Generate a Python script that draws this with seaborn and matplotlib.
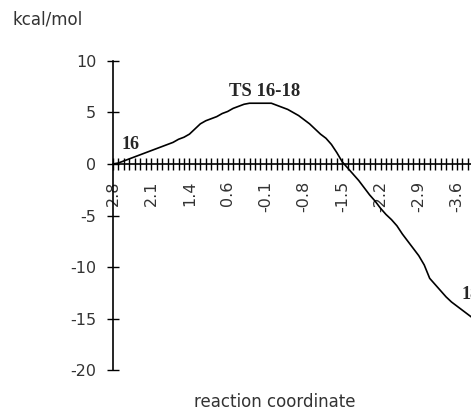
import numpy as np
import pandas as pd
import matplotlib
matplotlib.use("Agg")
import matplotlib.pyplot as plt
import seaborn as sns

# energia relativa (kcal/mol) en cada punto de la coordenada de reaccion
energia = [0.0, 0.1, 0.3, 0.5, 0.7, 0.9, 1.1, 1.3, 1.5, 1.7,
           1.9, 2.1, 2.4, 2.6, 2.9, 3.4, 3.9, 4.2, 4.4, 4.6,
           4.9, 5.1, 5.4, 5.6, 5.8, 5.9, 5.9, 5.9, 5.9, 5.9,
           5.7, 5.5, 5.3, 5.0, 4.7, 4.3, 3.9, 3.4, 2.9, 2.5,
           1.9, 1.1, 0.2, -0.4, -1.0, -1.6, -2.3, -3.0, -3.6, -4.3,
           -4.9, -5.4, -6.0, -6.8, -7.5, -8.2, -8.9, -9.8, -11.1, -11.7,
           -12.3, -12.9, -13.4, -13.8, -14.2, -14.6, -15.0, -15.4]
etiquetas_x = ["2.8", "2.1", "1.4", "0.6", "-0.1", "-0.8", "-1.5", "-2.2", "-2.9", "-3.6"]
ticks_y = [-20, -15, -10, -5, 0, 5, 10]
etiquetas_y = ["-20", "-15", "-10", "-5", "0", "5", "10"]

cada = 7  # una etiqueta cada 7 categorias
n_cat = 80

df = pd.DataFrame({"punto": np.arange(len(energia)), "energia": energia})

sns.set_style("white")
plt.rcParams["font.family"] = ["DejaVu Sans"]

fig = plt.figure(figsize=(4.71, 4.11), dpi=100)
ax = fig.add_axes([113 / 471, 41 / 411, n_cat * 5.46 / 471, 309 / 411])

sns.lineplot(data=df, x="punto", y="energia", color="black", linewidth=1.2, ax=ax)

ax.set_xlim(0, n_cat)
ax.set_ylim(-20, 10)

ax.spines["top"].set_visible(False)
ax.spines["right"].set_visible(False)
ax.spines["bottom"].set_position(("data", 0))
ax.spines["left"].set_position(("data", 0))
for s in ["bottom", "left"]:
    ax.spines[s].set_color("black")
    ax.spines[s].set_linewidth(1.2)

# marcas en todas las categorias, etiqueta cada 7
posiciones = np.arange(0, n_cat + 1)
lbls = [""] * len(posiciones)
for k, t in enumerate(etiquetas_x):
    lbls[k * cada] = t
ax.set_xticks(posiciones)
ax.set_xticklabels(lbls, rotation=90, color="#333333", fontsize=11.5)
ax.tick_params(axis="x", bottom=True, direction="inout", length=8, width=1.0,
               pad=8, color="black")
for lab in ax.get_xticklabels():
    lab.set_verticalalignment("top")

ax.set_yticks(ticks_y)
ax.set_yticklabels(etiquetas_y, color="#333333", fontsize=11.5)
ax.tick_params(axis="y", left=True, direction="inout", length=8, width=1.0,
               pad=8, color="black")

ax.set_xlabel("")
ax.set_ylabel("")

etiq_serif = ["Liberation Serif", "DejaVu Serif"]
ax.text(27.8, 6.6, "TS 16-18", family=etiq_serif, fontweight="bold", fontsize=13.5,
        ha="center", va="baseline")
ax.text(1.6, 1.45, "16", family=etiq_serif, fontweight="bold", fontsize=13,
        ha="left", va="baseline")
ax.text(63.9, -13.1, "18", family=etiq_serif, fontweight="bold", fontsize=13,
        ha="left", va="baseline")

fig.text(12 / 471, 1 - 20 / 411, "kcal/mol", fontsize=12, color="#333333",
         ha="left", va="center")
fig.text(275 / 471, 1 - 402 / 411, "reaction coordinate", fontsize=12, color="#333333",
         ha="center", va="center")

fig.savefig("out.png", dpi=100)
